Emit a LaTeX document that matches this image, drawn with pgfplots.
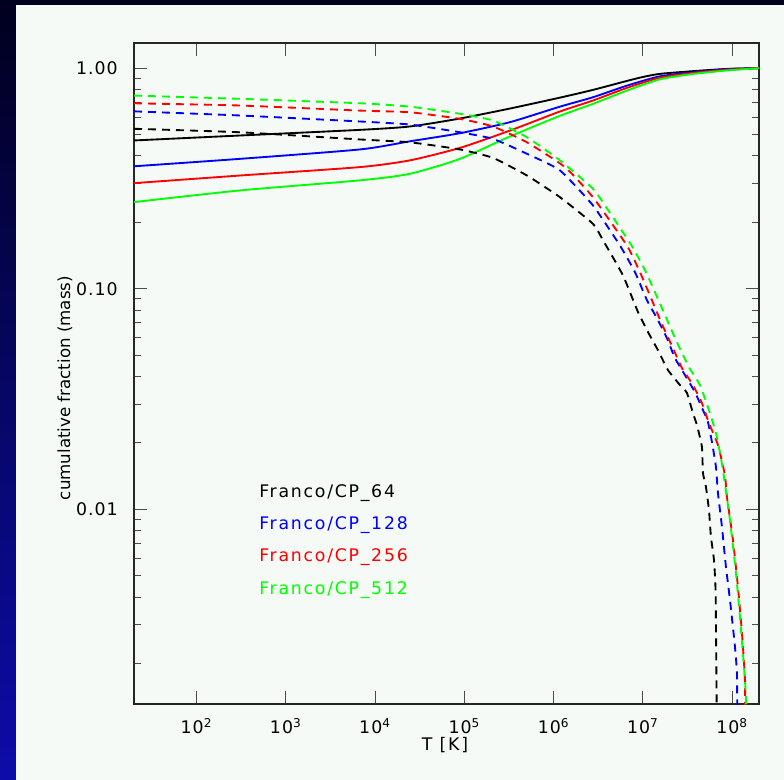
\documentclass[border=0pt]{standalone}
\usepackage{fontspec}
\setmainfont{DejaVu Sans}
\newfontfamily\tickfont[LetterSpace=6]{DejaVu Sans}
\newfontfamily\legfont[LetterSpace=10]{DejaVu Sans}
\usepackage{pgfplots}
\pgfplotsset{compat=1.18}
\definecolor{bgw}{RGB}{245,250,247}
\definecolor{navytop}{RGB}{0,0,30}
\definecolor{navybot}{RGB}{12,12,170}
\definecolor{idlgreen}{RGB}{0,255,0}
\definecolor{idlblue}{RGB}{0,0,255}
\definecolor{idlred}{RGB}{255,0,0}
\tikzset{sol/.style={line width=1.4pt, smooth, tension=0.4},
         dsh/.style={line width=1.4pt, smooth, tension=0.3, dash pattern=on 6pt off 4.5pt}}
\begin{document}
\begin{tikzpicture}[x=1pt,y=1pt]
\useasboundingbox (0,0) rectangle (588,585);
\shade[top color=navytop, bottom color=navybot] (0,0) rectangle (588,585);
\fill[bgw] (12,0) rectangle (588,581.25);
\begin{axis}[
  at={(100.5pt,57pt)}, anchor=south west,
  scale only axis, width=468.75pt, height=495.75pt,
  xmode=log, ymode=log,
  xmin=20, xmax=2e8, ymin=0.00131, ymax=1.30,
  xtick={1e2,1e3,1e4,1e5,1e6,1e7,1e8},
  xticklabels={10\textsuperscript{2},10\textsuperscript{3},10\textsuperscript{4},10\textsuperscript{5},10\textsuperscript{6},10\textsuperscript{7},10\textsuperscript{8}},
  xminorticks=false,
  ytick={0.01,0.1,1},
  yticklabels={0.01,0.10,1.00},
  minor ytick={0.002,0.003,0.004,0.005,0.006,0.007,0.008,0.009,0.02,0.03,0.04,0.05,0.06,0.07,0.08,0.09,0.2,0.3,0.4,0.5,0.6,0.7,0.8,0.9},
  major tick length=10pt, minor tick length=5pt,
  every tick/.style={black!70, line width=0.7pt},
  axis line style={black!85, line width=0.8pt},
  tick label style={font=\tickfont\fontsize{13}{15}\selectfont},
  xticklabel style={anchor=base, inner sep=0pt, yshift=-21.75pt},
  yticklabel style={anchor=east, inner sep=0pt, xshift=-12pt},
  xlabel={T [K]}, ylabel={cumulative fraction (mass)},
  xlabel style={at={(axis description cs:0.4976,-0.062)}, anchor=center, font=\legfont\fontsize{13}{15}\selectfont},
  ylabel style={at={(axis description cs:-0.1104,0.478)}, anchor=center, font=\fontsize{12.5}{14}\selectfont},
  /pgf/number format/assume math mode=true,
  clip=true,
]
% solid: cumulative fraction below T
\addplot[black, sol] coordinates {
(20,0.470) (307.6,0.495) (6792,0.525) (24660,0.544) (89450,0.591) (3.248e5,0.656) (1.179e6,0.735) (2.761e6,0.797) (6.632e6,0.875) (1.002e7,0.912) (1.553e7,0.942) (3.639e7,0.969) (8.744e7,0.992) (2e8,1.0)};
\addplot[idlblue, sol] coordinates {
(20,0.359) (307.6,0.388) (6792,0.428) (24660,0.466) (89450,0.507) (3.248e5,0.569) (1.179e6,0.669) (2.761e6,0.738) (6.632e6,0.833) (1.553e7,0.918) (3.639e7,0.957) (8.744e7,0.990) (2e8,1.0)};
\addplot[idlred, sol] coordinates {
(20,0.301) (307.6,0.326) (6792,0.356) (24660,0.382) (89450,0.435) (3.248e5,0.521) (1.179e6,0.636) (2.761e6,0.713) (6.632e6,0.814) (1.553e7,0.905) (3.639e7,0.951) (8.744e7,0.983) (2e8,1.0)};
\addplot[idlgreen, sol] coordinates {
(20,0.247) (307.6,0.279) (6792,0.310) (24660,0.332) (89450,0.388) (3.248e5,0.490) (1.179e6,0.608) (2.761e6,0.689) (6.632e6,0.791) (1.553e7,0.890) (3.639e7,0.941) (8.744e7,0.976) (2e8,1.0)};
% dashed: cumulative fraction above T
\addplot[black, dsh] coordinates {
(20,0.531) (307.6,0.512) (6792,0.475) (24660,0.461) (89450,0.428) (2.096e5,0.392) (5.035e5,0.326) (1.179e6,0.260) (2.761e6,0.197) (3.573e6,0.166) (5.983e6,0.115) (8.809e6,0.0785) (1.140e7,0.0637) (1.475e7,0.0527) (1.910e7,0.0428) (2.602e7,0.0366) (3.117e7,0.0337) (3.639e7,0.0273) (4.034e7,0.0241) (4.588e7,0.0192) (4.709e7,0.01463) (5.088e7,0.01264) (5.497e7,0.00995) (5.788e7,0.00751) (6.253e7,0.00591) (6.533e7,0.00419) (6.704e7,0.00137) (6.75e7,0.0009)};
\addplot[idlblue, dsh] coordinates {
(20,0.637) (307.6,0.610) (6792,0.573) (24660,0.555) (89450,0.512) (2.096e5,0.478) (5.035e5,0.409) (1.179e6,0.344) (2.761e6,0.2386) (5.539e6,0.157) (8.154e6,0.119) (1.111e7,0.0887) (1.438e7,0.0735) (1.861e7,0.0597) (2.288e7,0.0485) (2.960e7,0.0406) (3.831e7,0.0340) (4.709e7,0.0282) (5.357e7,0.0249) (5.939e7,0.0202) (6.584e7,0.0156) (6.934e7,0.01188) (7.688e7,0.00833) (8.521e7,0.00549) (9.447e7,0.00390) (1.075e8,0.00239) (1.132e8,0.00182) (1.140e8,0.00133) (1.145e8,0.0009)};
\addplot[idlred, dsh] coordinates {
(20,0.693) (307.6,0.677) (6792,0.642) (24660,0.631) (89450,0.589) (2.096e5,0.544) (5.035e5,0.461) (1.341e6,0.356) (2.761e6,0.260) (6.632e6,0.157) (9.276e6,0.119) (1.264e7,0.0887) (1.594e7,0.0708) (2.173e7,0.0538) (2.740e7,0.0437) (3.639e7,0.0366) (4.588e7,0.0303) (5.497e7,0.0246) (6.934e7,0.0196) (8.304e7,0.0143) (8.744e7,0.0114) (1.021e8,0.00728) (1.161e8,0.00446) (1.287e8,0.00276) (1.391e8,0.00169) (1.40e8,0.0009)};
\addplot[idlgreen, dsh] coordinates {
(20,0.751) (307.6,0.726) (6792,0.693) (24660,0.669) (89450,0.621) (2.096e5,0.579) (5.035e5,0.486) (1.179e6,0.382) (2.761e6,0.284) (4.280e6,0.221) (7.546e6,0.156) (1.083e7,0.119) (1.678e7,0.0799) (2.348e7,0.0585) (3.282e7,0.0441) (4.358e7,0.0366) (5.641e7,0.0273) (6.756e7,0.0213) (7.889e7,0.0151) (9.447e7,0.00896) (1.103e8,0.00516) (1.223e8,0.00326) (1.356e8,0.00194) (1.427e8,0.00142) (1.46e8,0.0009)};
\end{axis}
\begin{scope}[every node/.style={anchor=base west, inner sep=0pt, font=\legfont\fontsize{13}{15}\selectfont}]
\node[text=black] at (194.25,211.9) {Franco/CP\_64};
\node[text=idlblue] at (194.25,187.6) {Franco/CP\_128};
\node[text=idlred] at (194.25,163.5) {Franco/CP\_256};
\node[text=idlgreen] at (194.25,138.75) {Franco/CP\_512};
\end{scope}
\end{tikzpicture}
\end{document}
